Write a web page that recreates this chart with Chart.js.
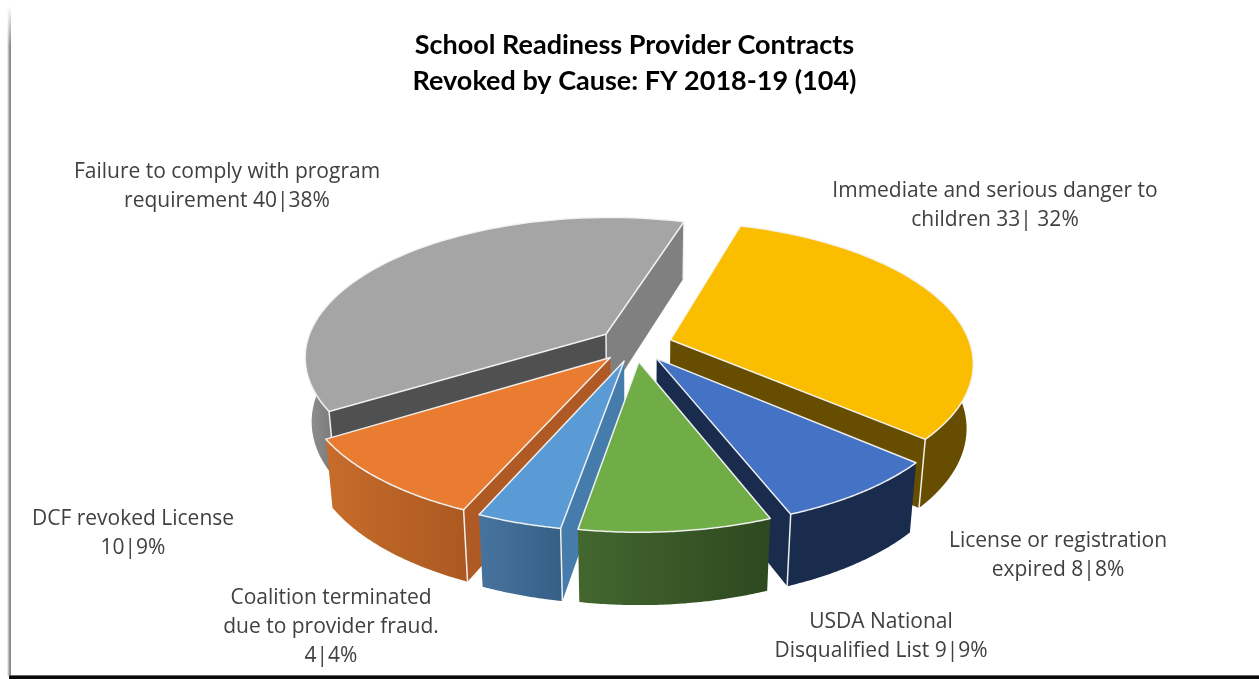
<!DOCTYPE html>
<html><head><meta charset="utf-8">
<style>
html,body{margin:0;padding:0;background:#fff;overflow:hidden;width:1259px;height:679px}
#edge{position:absolute;left:7px;top:6px;width:4px;height:670px;background:linear-gradient(to right,#fff,#bbb 40%,#777 85%,#ddd);-webkit-mask-image:linear-gradient(to bottom,transparent,#000 40px)}
#bar{position:absolute;left:9px;top:675px;width:1300px;height:4px;background:linear-gradient(to bottom,#999,#0a0a0a 35%)}
#wrap{position:absolute;left:0;top:0;width:1259px;height:679px}
</style>
<script src="https://cdn.jsdelivr.net/npm/chart.js@4"></script>
</head><body>
<div id="edge"></div><div id="bar"></div>
<div id="wrap"><canvas id="c" width="1259" height="679"></canvas></div>
<script>
const titleLines = ["School Readiness Provider Contracts", "Revoked by Cause: FY 2018-19 (104)"];
const categories = [
  ["Immediate and serious danger to", "children 33| 32%"],
  ["License or registration", "expired 8|8%"],
  ["USDA National", "Disqualified List 9|9%"],
  ["Coalition terminated", "due to provider fraud.", "4|4%"],
  ["DCF revoked License", "10|9%"],
  ["Failure to comply with program", "requirement 40|38%"]
];
const counts = [33, 8, 9, 4, 10, 40];
const topColours = ["#FBBD00", "#4472C4", "#70AD47", "#5B9BD5", "#EA7C31", "#A5A5A5"];
const rimLight = ["#664D00", "#1A2C4E", "#43672F", "#47749F", "#C76C2B", "#929292"];
const rimDark = ["#664D00", "#1A2C4E", "#2E481F", "#365F85", "#AC5921", "#7E7E7E"];
const startWall = ["#664D00", "#1A2C4E", "#2E481F", "#457CAB", "#AF5A24", "#505050"];
const endWall = ["#664D00", "#1A2C4E", "#2E481F", "#457CAB", "#AF5A24", "#808080"];
const labelCentres = [[995, 191], [1058, 541], [881, 622], [331, 598], [133, 519], [227, 172]];

const pie3d = {
  id: "pie3d",
  beforeDatasetsDraw(chart, args, o) {
    const ctx = chart.ctx, meta = chart.getDatasetMeta(0);
    const F = o.scale * o.dist, sp = Math.sin(o.tilt), cp = Math.cos(o.tilt);
    const project = (X, Y, Z) => {
      const zc = o.dist + Y * cp - Z * sp;
      return [o.cx + F * X / zc, o.cy - F * (Y * sp + Z * cp) / zc];
    };
    const slices = meta.data.map((arc, i) => {
      const p = arc.getProps(["startAngle", "endAngle", "outerRadius"], true);
      const mid = (p.startAngle + p.endAngle) / 2;
      const e = arc.options.offset / p.outerRadius;
      return { i, a0: p.startAngle, a1: p.endAngle, ox: Math.cos(mid) * e, oy: -Math.sin(mid) * e, midY: -Math.sin(mid) };
    }).sort((a, b) => b.midY - a.midY);
    const path = pts => {
      ctx.beginPath();
      pts.forEach((q, k) => k ? ctx.lineTo(q[0], q[1]) : ctx.moveTo(q[0], q[1]));
      ctx.closePath();
    };
    const area = pts => pts.reduce((s, q, k) => {
      const r = pts[(k + 1) % pts.length];
      return s + q[0] * r[1] - r[0] * q[1];
    }, 0);
    ctx.save();
    ctx.lineJoin = "round";
    for (const s of slices) {
      const rimT = [], rimB = [], n = 60;
      for (let k = 0; k <= n; k++) {
        const a = s.a0 + (s.a1 - s.a0) * k / n;
        const X = s.ox + Math.cos(a), Y = s.oy - Math.sin(a);
        rimT.push(project(X, Y, 0));
        rimB.push(project(X, Y, -o.depth));
      }
      const apT = project(s.ox, s.oy, 0), apB = project(s.ox, s.oy, -o.depth);
      const vis = [];
      for (let k = 0; k < n; k++) {
        const a = s.a0 + (s.a1 - s.a0) * (k + .5) / n;
        if (Math.sin(a) > -0.2) vis.push(rimT[k][0], rimT[k + 1][0]);
      }
      const xs = vis.length ? vis : [0, 1];
      const g = ctx.createLinearGradient(Math.min(...xs), 0, Math.max(...xs), 0);
      g.addColorStop(0, rimLight[s.i]); g.addColorStop(1, rimDark[s.i]);
      path(rimT.concat(rimB.slice().reverse()));
      ctx.fillStyle = g; ctx.fill();
      const w0 = [apT, rimT[0], rimB[0], apB], w1 = [apT, apB, rimB[n], rimT[n]];
      const v0 = area(w0) < 0, v1 = area(w1) < 0;
      if (v0) { path(w0); ctx.fillStyle = startWall[s.i]; ctx.fill(); }
      if (v1) { path(w1); ctx.fillStyle = endWall[s.i]; ctx.fill(); }
      ctx.strokeStyle = "rgba(245,245,245,.95)"; ctx.lineWidth = 1.5;
      const seg = (a, b) => { ctx.beginPath(); ctx.moveTo(a[0], a[1]); ctx.lineTo(b[0], b[1]); ctx.stroke(); };
      if (v0) seg(rimT[0], rimB[0]);
      if (v1) seg(rimT[n], rimB[n]);
      if (v0 && v1) seg(apT, apB);
      path([apT].concat(rimT));
      ctx.fillStyle = meta.data[s.i].options.backgroundColor; ctx.fill();
      ctx.stroke();
    }
    ctx.restore();
    return false;
  },
  afterDraw(chart, args, o) {
    const ctx = chart.ctx;
    ctx.save();
    ctx.font = o.font; ctx.fillStyle = o.color;
    ctx.textAlign = "center"; ctx.textBaseline = "middle";
    chart.data.labels.forEach((lines, i) => {
      lines.forEach((t, k) => ctx.fillText(t, labelCentres[i][0], labelCentres[i][1] + k * o.lineGap));
    });
    ctx.restore();
  }
};

new Chart(document.getElementById("c"), {
  type: "pie",
  data: {
    labels: categories,
    datasets: [{ data: counts, backgroundColor: topColours, borderWidth: 0, offset: 28 }]
  },
  options: {
    responsive: false,
    animation: false,
    rotation: 16.7,
    layout: { padding: { left: 10, right: 0, top: 27, bottom: 90 } },
    plugins: {
      legend: { display: false },
      tooltip: { enabled: false },
      title: {
        display: true,
        text: titleLines,
        color: "#000",
        font: { family: "Lato", size: 27, weight: "bold", lineHeight: 1.33 },
        padding: { top: 0, bottom: 8 }
      },
      pie3d: {
        cx: 635, cy: 344.5, scale: 300, dist: 5.7, tilt: 0.478, depth: 0.245,
        font: "21px 'Open Sans'", color: "#404040", lineGap: 29
      }
    }
  },
  plugins: [pie3d]
});
</script>
</body></html>
